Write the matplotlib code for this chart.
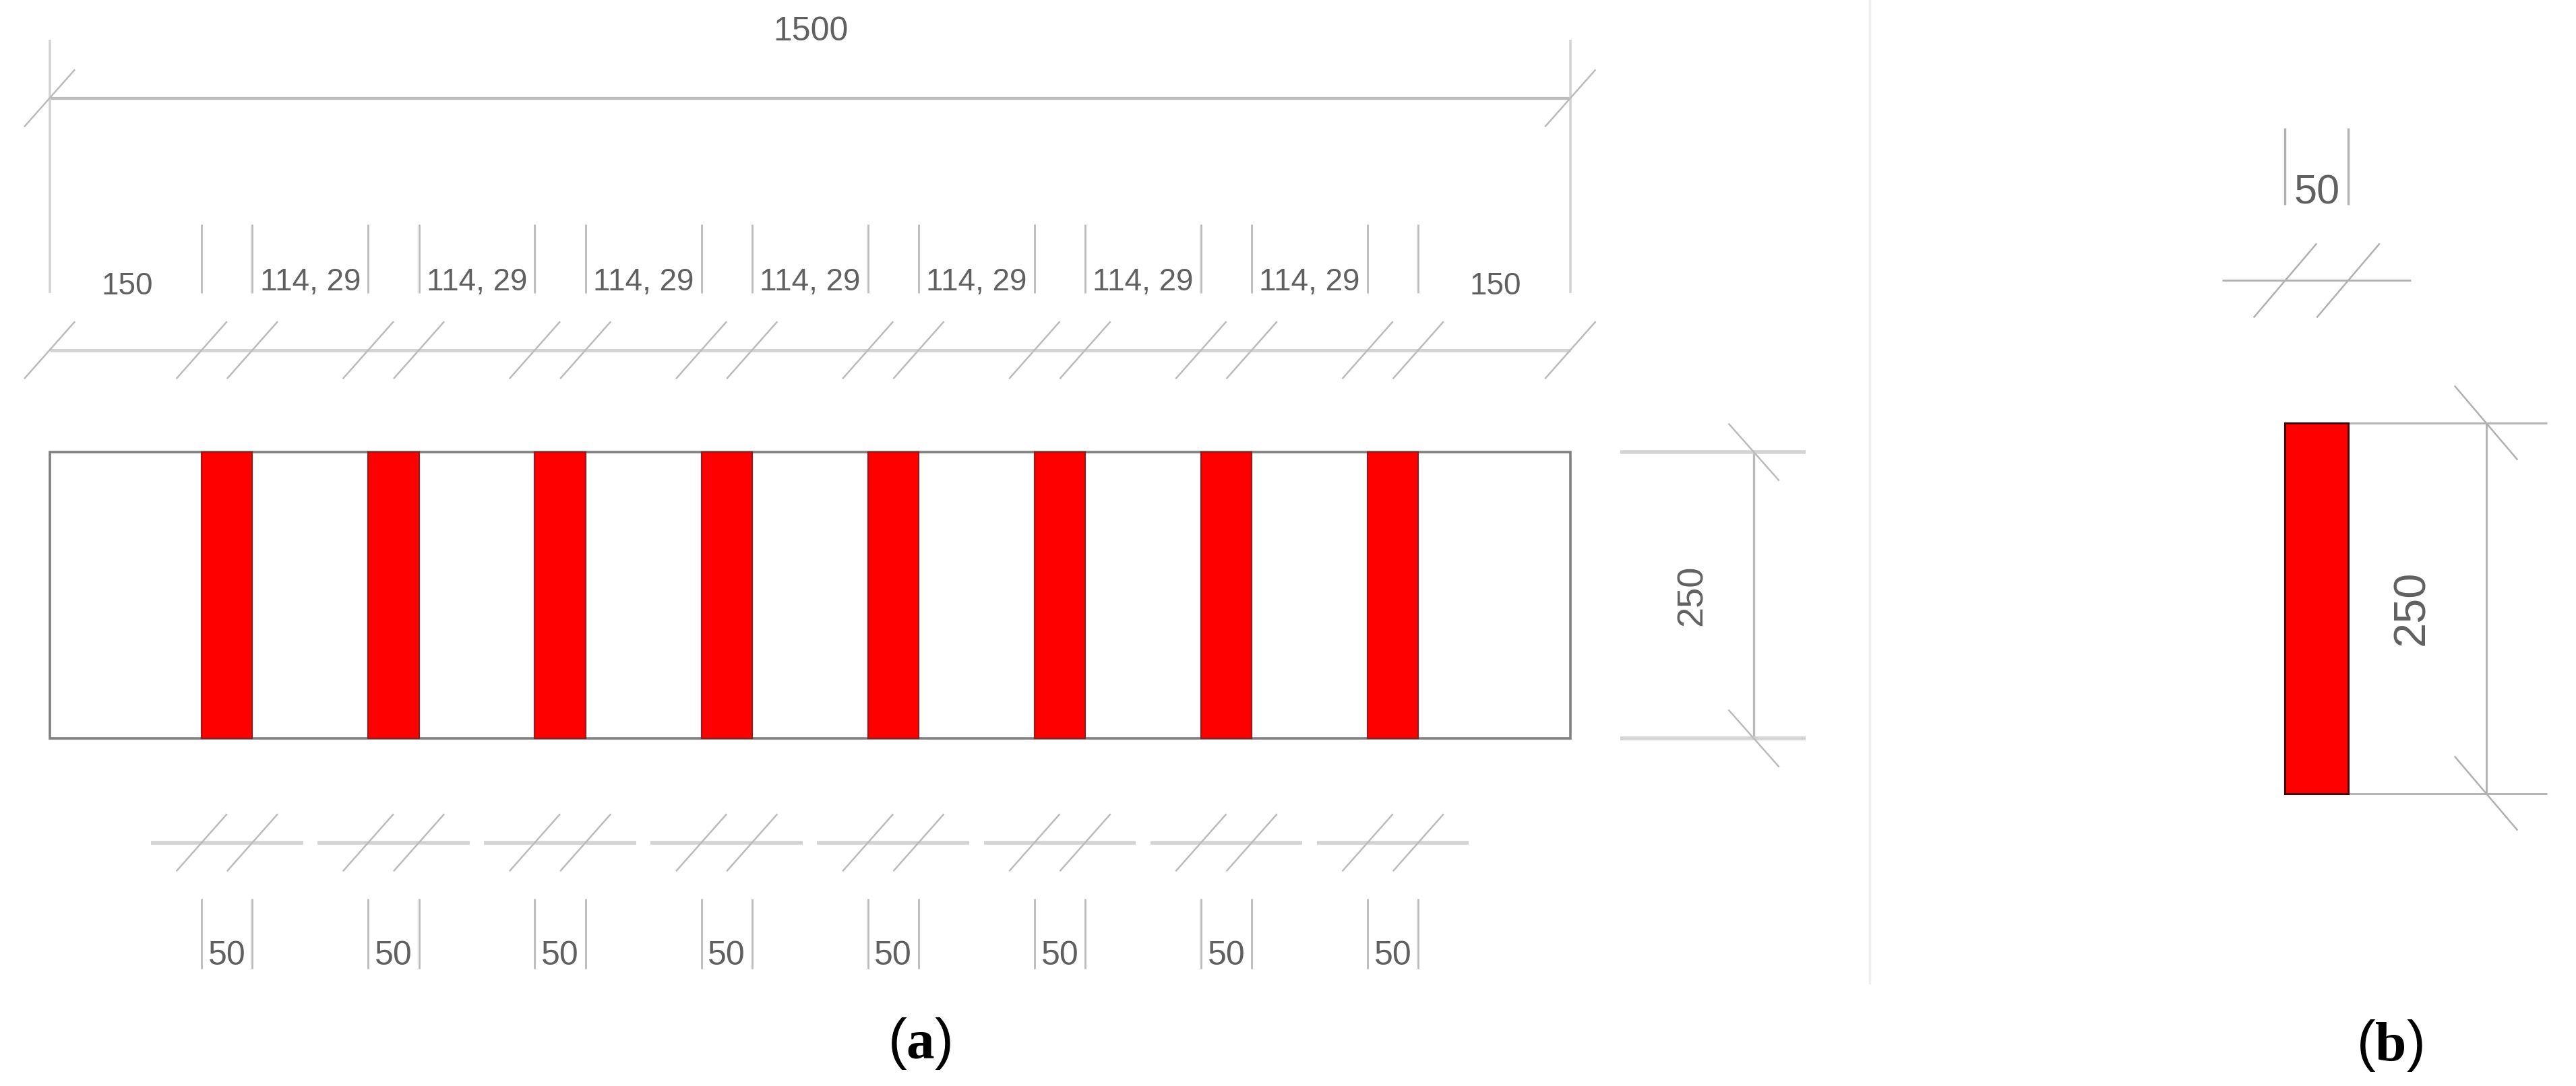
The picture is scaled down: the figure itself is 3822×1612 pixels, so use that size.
import matplotlib
matplotlib.use("Agg")
import matplotlib.pyplot as plt
from matplotlib.patches import Rectangle

# beam dimensions in mm, as printed on the drawing
beamLength = 1500
beamHeight = 250
edgeClear = 150
stripWidth = 50
stripGap = 114.29
numberOfStrips = 8

# dimension labels
lengthLabel = "1500"
heightLabel = "250"
edgeLabel = "150"
gapLabel = "114, 29"
widthLabel = "50"
captionA = r"($\mathbf{a}$)"
captionB = r"($\mathbf{b}$)"

plt.rcParams["font.family"] = ["Liberation Sans"]
plt.rcParams["mathtext.fontset"] = "custom"
plt.rcParams["mathtext.rm"] = "Liberation Serif"
plt.rcParams["mathtext.bf"] = "Liberation Serif:bold"

W, H = 3823, 1612
fig = plt.figure(figsize=(W / 100, H / 100), dpi=100, facecolor="white")

# scale of the two panels differs a bit, the picture was stretched
axA = fig.add_axes([0, 0, 2770 / W, 1])
axA.set_xlim(-48.9, 1792.6)
axA.set_ylim(-303.5, 644.7)
axA.axis("off")

axB = fig.add_axes([2770 / W, 0, (W - 2770) / W, 1])
axB.set_xlim(-331.8, 231.3)
axB.set_ylim(-197.5, 535.3)
axB.axis("off")

textColor = "#606060"
thin = "#bbbbbb"
wide = "#d4d4d4"
thinB = "#b0b0b0"
tickSize = 25


def seg(ax, xs, ys, color=thin, lw=2.0):
    ax.plot(xs, ys, color=color, lw=lw, solid_capstyle="butt")


def tick(ax, x, y, flip=False, color=thin):
    if flip:
        seg(ax, [x - tickSize, x + tickSize], [y + tickSize, y - tickSize], color=color, lw=1.8)
    else:
        seg(ax, [x - tickSize, x + tickSize], [y - tickSize, y + tickSize], color=color, lw=1.8)


stripLefts = [edgeClear + i * (stripWidth + stripGap) for i in range(numberOfStrips)]

# panel a: beam and strips
axA.add_patch(Rectangle((0, 0), beamLength, beamHeight, facecolor="white", edgecolor="#808080", lw=2.6))
for left in stripLefts:
    axA.add_patch(Rectangle((left, 0), stripWidth, beamHeight, facecolor="#ff0000", edgecolor="#8a2020", lw=1.6, zorder=3))

# overall length
dimTop = 559
seg(axA, [0, beamLength], [dimTop, dimTop], lw=3)
for x in [0, beamLength]:
    seg(axA, [x, x], [389, 610], color="#d4d4d4", lw=2.6)
    tick(axA, x, dimTop)
axA.text(751, 617, lengthLabel, ha="center", va="center", fontsize=36, color=textColor)

# chain of edge, strip and gap dimensions
dimChain = 339
seg(axA, [0, beamLength], [dimChain, dimChain], color=wide, lw=3.6)
tick(axA, 0, dimChain)
tick(axA, beamLength, dimChain)
for left in stripLefts:
    for x in [left, left + stripWidth]:
        seg(axA, [x, x], [389, 449], lw=2)
        tick(axA, x, dimChain)
axA.text(edgeClear / 2 + 1.5, 395, edgeLabel, ha="center", va="center", fontsize=33, color=textColor)
axA.text(beamLength - edgeClear / 2 + 1, 395, edgeLabel, ha="center", va="center", fontsize=33, color=textColor)
for left in stripLefts[:-1]:
    axA.text(left + stripWidth + stripGap / 2, 398, gapLabel, ha="center", va="center", fontsize=33, color=textColor)

# strip widths under the beam
dimBottom = -91
for left in stripLefts:
    seg(axA, [left - stripWidth, left + 2 * stripWidth], [dimBottom, dimBottom], color=wide, lw=4)
    for x in [left, left + stripWidth]:
        tick(axA, x, dimBottom)
        seg(axA, [x, x], [-201, -140], lw=2)
    axA.text(left + stripWidth / 2, -190, widthLabel, ha="center", va="center", fontsize=36, color=textColor)

# beam height
dimRight = 1681
seg(axA, [dimRight, dimRight], [0, beamHeight], lw=2.4)
for y in [0, beamHeight]:
    seg(axA, [beamLength + 49, beamLength + 232], [y, y], color=wide, lw=4)
    tick(axA, dimRight, y, flip=True)
axA.text(1620, beamHeight / 2, heightLabel, rotation=90, ha="center", va="center", fontsize=39, color=textColor)

axA.text(858, -266.5, captionA, ha="center", va="center", fontsize=60, color="black")

# divider between the panels
axB.plot([-329.7, -329.7], [-128, 535.3], color="#eeeeee", lw=2.4)

# panel b: single strip section
axB.add_patch(Rectangle((0, 0), stripWidth, beamHeight, facecolor="#ff0000", edgecolor="#4a0000", lw=2.2, zorder=3))

dimB = 346
seg(axB, [-stripWidth, 2 * stripWidth], [dimB, dimB], color=thinB, lw=2)
for x in [0, stripWidth]:
    tick(axB, x, dimB, color=thinB)
    seg(axB, [x, x], [397, 449], color=thinB, lw=2.4)
axB.text(stripWidth / 2, 405, widthLabel, ha="center", va="center", fontsize=44, color=textColor)

dimBRight = 159.4
seg(axB, [dimBRight, dimBRight], [0, beamHeight], color=thinB, lw=2)
for y in [0, beamHeight]:
    seg(axB, [stripWidth, 208], [y, y], color=thinB, lw=2)
    tick(axB, dimBRight, y, flip=True, color=thinB)
axB.text(101, beamHeight / 2, heightLabel, rotation=90, ha="center", va="center", fontsize=48, color=textColor)

axB.text(83, -170, captionB, ha="center", va="center", fontsize=60, color="black")

fig.savefig("out.png", dpi=100, facecolor="white")
